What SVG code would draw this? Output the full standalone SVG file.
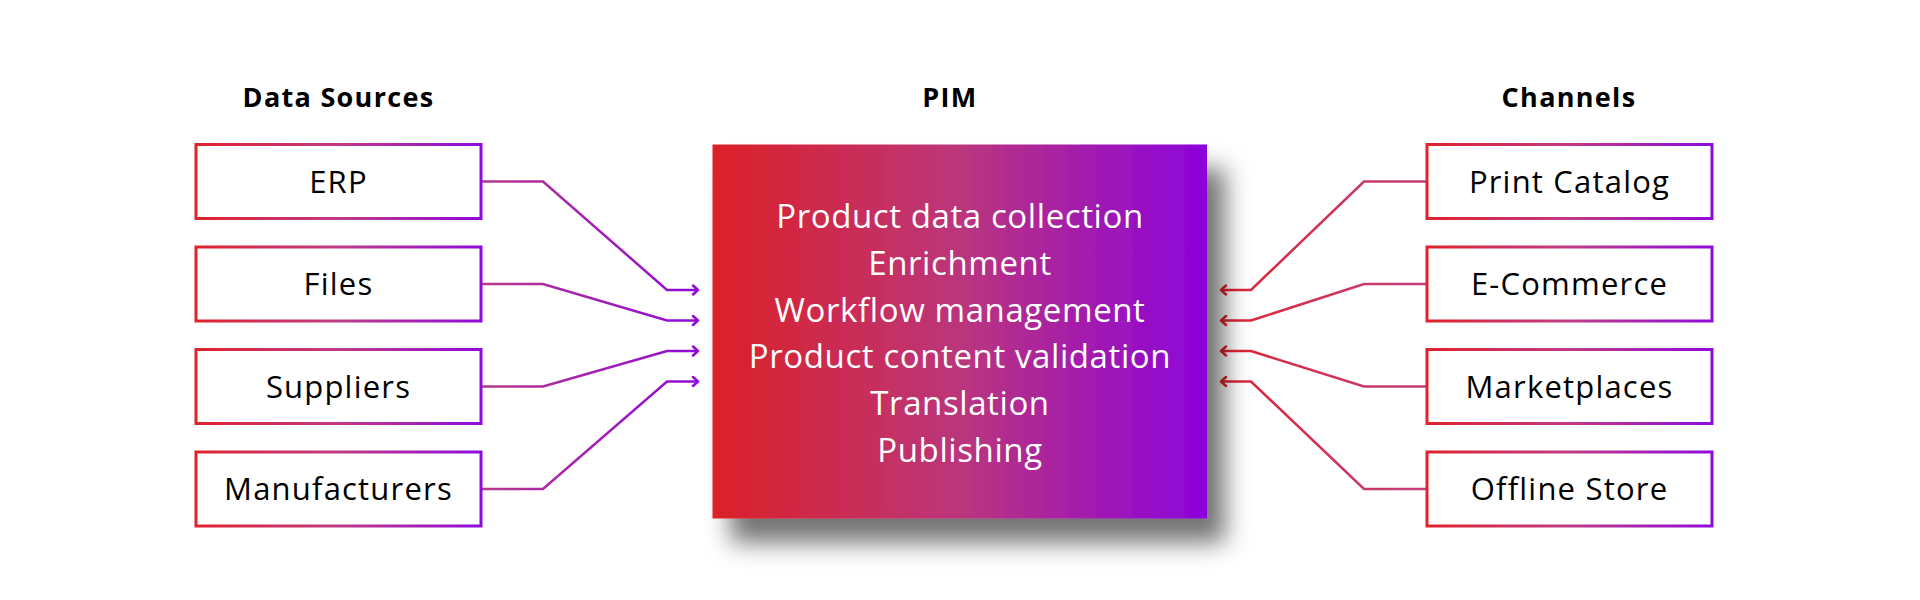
<svg xmlns="http://www.w3.org/2000/svg" width="1920" height="600" viewBox="0 0 1920 600">
<defs>
<linearGradient id="boxStroke" x1="0" y1="0" x2="1" y2="0">
<stop offset="0" stop-color="#e0222c"/>
<stop offset="0.5" stop-color="#c03a86"/>
<stop offset="1" stop-color="#8f0adc"/>
</linearGradient>
<linearGradient id="pimFill" x1="0" y1="0" x2="1" y2="0">
<stop offset="0" stop-color="#dc2127"/>
<stop offset="0.5" stop-color="#bb367c"/>
<stop offset="1" stop-color="#8b02dc"/>
</linearGradient>
<linearGradient id="leftLine" gradientUnits="userSpaceOnUse" x1="481" y1="0" x2="698" y2="0">
<stop offset="0" stop-color="#b8388a"/>
<stop offset="1" stop-color="#8f0ad8"/>
</linearGradient>
<linearGradient id="rightLine" gradientUnits="userSpaceOnUse" x1="1427" y1="0" x2="1220" y2="0">
<stop offset="0" stop-color="#c0407e"/>
<stop offset="1" stop-color="#e2222e"/>
</linearGradient>
<marker id="arrowL" markerWidth="12" markerHeight="12" refX="9" refY="6" orient="auto" markerUnits="userSpaceOnUse">
<polyline points="4,1.5 9,6 4,10.5" fill="none" stroke="#8f0ad8" stroke-width="2.5" stroke-linecap="round" stroke-linejoin="round"/>
</marker>
<marker id="arrowR" markerWidth="12" markerHeight="12" refX="9" refY="6" orient="auto" markerUnits="userSpaceOnUse">
<polyline points="4,1.5 9,6 4,10.5" fill="none" stroke="#e2222e" stroke-width="2.5" stroke-linecap="round" stroke-linejoin="round"/>
</marker>
<filter id="shadow" x="-15%" y="-15%" width="140%" height="145%">
<feDropShadow dx="18" dy="24" stdDeviation="12" flood-color="#000" flood-opacity="0.55"/>
</filter>
<style>
.box{fill:#fff;stroke:url(#boxStroke);stroke-width:3}
.lbl{font-family:"Open Sans","Liberation Sans",sans-serif;font-size:31px;fill:#000;text-anchor:middle;letter-spacing:1.2px}
.head{font-family:"Open Sans","Liberation Sans",sans-serif;font-size:27px;font-weight:bold;fill:#000;text-anchor:middle;letter-spacing:1.3px}
.pim{font-family:"Open Sans","Liberation Sans",sans-serif;font-size:33px;fill:#fff;text-anchor:middle;letter-spacing:0.6px}
.cl{fill:none;stroke:url(#leftLine);stroke-width:2.5;marker-end:url(#arrowL)}
.cr{fill:none;stroke:url(#rightLine);stroke-width:2.5;marker-end:url(#arrowR)}
</style>
</defs>
<rect width="1920" height="600" fill="#fff"/>

<g id="headings">
<text class="head" x="338.5" y="107">Data Sources</text>
<text class="head" x="950" y="107">PIM</text>
<text class="head" x="1569" y="107">Channels</text>
</g>

<g id="connectors">
<path class="cl" d="M481,181.5 H543 L667,290 H698"/>
<path class="cl" d="M481,284 H543 L667,320.5 H698"/>
<path class="cl" d="M481,386.5 H543 L667,351 H698"/>
<path class="cl" d="M481,489 H543 L667,381.5 H698"/>
<path class="cr" d="M1427,181.5 H1364 L1251,290 H1221"/>
<path class="cr" d="M1427,284 H1364 L1251,320.5 H1221"/>
<path class="cr" d="M1427,386.5 H1364 L1251,351 H1221"/>
<path class="cr" d="M1427,489 H1364 L1251,381.5 H1221"/>
</g>

<g id="pim">
<rect x="712.5" y="144.5" width="494.5" height="374" fill="url(#pimFill)" filter="url(#shadow)"/>
<text class="pim" x="960" y="228">Product data collection</text>
<text class="pim" x="960" y="275">Enrichment</text>
<text class="pim" x="960" y="321.5">Workflow management</text>
<text class="pim" x="960" y="368">Product content validation</text>
<text class="pim" x="960" y="415">Translation</text>
<text class="pim" x="960" y="461.5">Publishing</text>
</g>

<g id="src-erp"><rect class="box" x="196" y="144.5" width="285" height="74"/><text class="lbl" x="338.5" y="192.5">ERP</text></g>
<g id="src-files"><rect class="box" x="196" y="247" width="285" height="74"/><text class="lbl" x="338.5" y="295">Files</text></g>
<g id="src-suppliers"><rect class="box" x="196" y="349.5" width="285" height="74"/><text class="lbl" x="338.5" y="397.5">Suppliers</text></g>
<g id="src-manufacturers"><rect class="box" x="196" y="452" width="285" height="74"/><text class="lbl" x="338.5" y="500">Manufacturers</text></g>

<g id="ch-print"><rect class="box" x="1427" y="144.5" width="285" height="74"/><text class="lbl" x="1569.5" y="192.5">Print Catalog</text></g>
<g id="ch-ecommerce"><rect class="box" x="1427" y="247" width="285" height="74"/><text class="lbl" x="1569.5" y="295">E-Commerce</text></g>
<g id="ch-marketplaces"><rect class="box" x="1427" y="349.5" width="285" height="74"/><text class="lbl" x="1569.5" y="397.5">Marketplaces</text></g>
<g id="ch-offline"><rect class="box" x="1427" y="452" width="285" height="74"/><text class="lbl" x="1569.5" y="500">Offline Store</text></g>
</svg>
